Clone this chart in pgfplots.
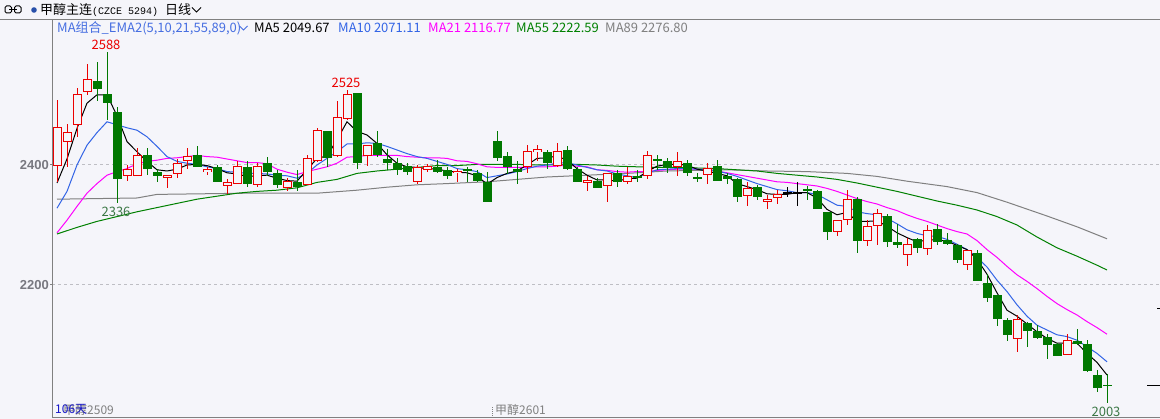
\documentclass[border=0pt]{standalone}
\usepackage{pgfplots}
\pgfplotsset{compat=1.18}
\usepackage{pgfplotstable}
\usepackage{fontspec}
\setmainfont{Noto Sans CJK SC}
\newfontfamily\tickfont{Liberation Sans}
\newfontfamily\monofont{Liberation Mono}
\newcommand\fs[1]{\fontsize{#1}{#1}\selectfont}

\definecolor{bg}{RGB}{245,245,250}
\definecolor{upred}{RGB}{235,0,0}
\definecolor{dngreen}{RGB}{0,120,0}
\definecolor{maA}{RGB}{0,0,0}
\definecolor{maB}{RGB}{50,100,230}
\definecolor{maC}{RGB}{255,0,255}
\definecolor{maD}{RGB}{0,128,0}
\definecolor{maE}{RGB}{128,128,128}
\definecolor{hdrblue}{RGB}{70,110,225}
\definecolor{lblgreen}{RGB}{60,120,70}
\definecolor{axgray}{RGB}{128,128,128}
\definecolor{tickgray}{RGB}{120,120,128}
\definecolor{gridgray}{RGB}{190,190,196}
\definecolor{dotblue}{RGB}{40,80,170}
\definecolor{daysblue}{RGB}{20,20,200}

% up candles (close > open)
\pgfplotstableread{
n o h l c
1 2399 2509 2372 2463
2 2439 2469 2396 2454
3 2468 2528 2447 2517
4 2522 2568 2517 2543
8 2382 2400 2374 2392
9 2383 2428 2383 2416
12 2379 2383 2361 2383
13 2386 2410 2378 2403
14 2408 2429 2394 2414
16 2389 2397 2383 2392
18 2365 2376 2352 2371
19 2369 2406 2369 2397
21 2367 2403 2364 2397
24 2362 2378 2356 2373
26 2368 2417 2366 2411
27 2408 2461 2405 2457
29 2416 2507 2414 2479
30 2478 2525 2475 2518
32 2416 2433 2399 2433
37 2372 2400 2368 2396
38 2393 2402 2389 2397
41 2387 2394 2372 2389
48 2397 2434 2386 2423
49 2422 2434 2406 2425
51 2399 2437 2396 2423
54 2371 2382 2356 2374
56 2366 2386 2338 2386
58 2372 2397 2369 2381
60 2382 2424 2377 2415
63 2397 2422 2381 2406
66 2384 2404 2368 2394
70 2349 2372 2331 2361
72 2339 2350 2326 2343
73 2346 2358 2335 2351
79 2289 2307 2281 2307
80 2309 2358 2300 2342
82 2274 2308 2265 2298
83 2299 2326 2267 2319
86 2251 2279 2232 2268
88 2260 2300 2250 2291
92 2234 2258 2225 2257
97 2111 2150 2089 2142
102 2084 2118 2084 2107
}\up

% down candles (close < open)
\pgfplotstableread{
n o h l c
5 2540 2571 2507 2527
6 2518 2588 2475 2503
7 2489 2497 2336 2377
10 2417 2428 2383 2393
11 2388 2394 2371 2381
15 2416 2432 2396 2397
17 2397 2400 2371 2372
20 2396 2406 2363 2368
22 2404 2413 2382 2388
23 2386 2392 2362 2366
25 2372 2392 2356 2364
28 2457 2457 2396 2411
31 2520 2520 2393 2403
33 2436 2457 2414 2416
34 2410 2426 2392 2404
35 2403 2411 2384 2392
36 2398 2403 2384 2389
39 2397 2408 2386 2388
40 2392 2397 2377 2382
42 2393 2397 2372 2391
43 2386 2392 2371 2374
44 2372 2389 2339 2339
45 2440 2456 2406 2411
46 2415 2421 2385 2397
47 2394 2407 2368 2389
50 2422 2425 2394 2403
52 2425 2431 2392 2394
53 2393 2397 2371 2371
55 2373 2378 2361 2361
57 2386 2392 2363 2371
59 2381 2392 2371 2378
61 2410 2417 2392 2407
62 2407 2411 2386 2396
64 2403 2408 2381 2386
65 2380 2386 2371 2377
67 2398 2408 2374 2374
68 2381 2387 2368 2376
69 2376 2378 2339 2346
71 2363 2367 2341 2347
76 2360 2365 2342 2357
77 2357 2359 2327 2327
78 2322 2322 2275 2289
81 2344 2346 2254 2274
84 2315 2318 2264 2271
85 2272 2302 2262 2266
87 2277 2279 2254 2261
89 2294 2302 2267 2271
90 2275 2287 2267 2268
91 2267 2269 2236 2241
93 2254 2259 2207 2207
94 2203 2219 2172 2179
95 2183 2183 2132 2143
96 2141 2145 2106 2116
98 2137 2139 2096 2124
99 2123 2133 2110 2112
100 2114 2119 2076 2100
101 2102 2103 2081 2082
103 2107 2127 2100 2102
104 2102 2108 2055 2056
105 2050 2059 2021 2029
106 2033 2052 2003 2032
}\dn

% flat candles
\pgfplotstableread{
n o h l c
74 2354 2363 2347 2354
75 2354 2371 2331 2354
}\flat

% MA5 (a), MA10 (b), MA21 (m)
\pgfplotstableread{
n a b m
1 2370 2328 2287
2 2410 2356 2308
3 2461 2400 2331
4 2503 2433 2353
5 2517 2454 2369
6 2517 2472 2383
7 2482 2467 2389
8 2439 2462 2394
9 2422 2458 2402
10 2406 2447 2406
11 2392 2431 2408
12 2390 2414 2411
13 2393 2406 2412
14 2400 2403 2414
15 2401 2401 2416
16 2399 2397 2414
17 2394 2394 2413
18 2387 2389 2410
19 2385 2388 2407
20 2381 2386 2404
21 2382 2386 2404
22 2383 2385 2402
23 2378 2383 2393
24 2374 2382 2388
25 2373 2378 2384
26 2392 2386 2389
27 2411 2400 2393
28 2415 2411 2397
29 2442 2422 2403
30 2472 2435 2413
31 2456 2435 2414
32 2450 2437 2416
33 2436 2436 2416
34 2417 2431 2416
35 2403 2425 2416
36 2397 2419 2414
37 2396 2414 2413
38 2394 2411 2412
39 2393 2406 2412
40 2390 2401 2411
41 2388 2394 2407
42 2387 2392 2406
43 2382 2389 2402
44 2368 2379 2397
45 2379 2382 2396
46 2386 2385 2396
47 2390 2389 2396
48 2400 2394 2396
49 2411 2398 2397
50 2412 2400 2397
51 2415 2403 2398
52 2408 2404 2400
53 2394 2400 2398
54 2383 2396 2397
55 2375 2392 2392
56 2375 2390 2391
57 2373 2385 2389
58 2377 2382 2388
59 2378 2379 2389
60 2389 2386 2389
61 2398 2392 2391
62 2401 2393 2392
63 2401 2394 2393
64 2400 2394 2393
65 2393 2393 2393
66 2390 2392 2392
67 2386 2390 2390
68 2382 2386 2387
69 2369 2381 2384
70 2364 2375 2381
71 2359 2369 2378
72 2352 2364 2375
73 2351 2359 2372
74 2351 2357 2371
75 2354 2354 2369
76 2354 2354 2367
77 2345 2351 2365
78 2326 2342 2361
79 2317 2333 2356
80 2321 2331 2350
81 2306 2322 2344
82 2306 2319 2339
83 2307 2317 2335
84 2298 2311 2329
85 2287 2302 2324
86 2279 2292 2317
87 2272 2286 2311
88 2275 2282 2306
89 2275 2281 2300
90 2273 2276 2294
91 2266 2268 2289
92 2259 2259 2285
93 2243 2246 2274
94 2218 2230 2259
95 2187 2208 2246
96 2158 2189 2231
97 2148 2167 2217
98 2135 2148 2206
99 2122 2133 2194
100 2111 2125 2181
101 2103 2117 2169
102 2103 2114 2159
103 2103 2108 2150
104 2086 2097 2139
105 2071 2086 2129
106 2050 2072 2118
}\ma

% MA55
\pgfplotstableread{
n v
1 2285
3 2296
5 2306
7 2314
9 2322
11 2329
13 2336
15 2343
17 2348
19 2353
21 2356
23 2358
25 2362
27 2371
29 2376
31 2386
33 2390
35 2393
37 2396
39 2399
41 2399
43 2401
45 2401
47 2401
49 2400
51 2400
53 2401
55 2400
57 2398
59 2397
61 2396
63 2396
65 2395
67 2394
69 2392
71 2390
73 2386
75 2383
77 2380
79 2376
81 2370
83 2363
85 2356
87 2348
89 2340
91 2333
93 2325
95 2314
97 2300
99 2280
101 2262
103 2248
105 2233
106 2225
}\mafs

% MA89
\pgfplotstableread{
n v
1 2343
9 2345
11 2351
20 2353
27 2353
31 2358
34 2363
37 2367
40 2369
44 2372
47 2376
50 2380
54 2383
58 2386
62 2390
68 2392
72 2390
76 2389
80 2386
83 2381
86 2373
90 2364
93 2354
96 2338
100 2315
103 2297
106 2277
}\maen

\begin{document}
\begin{tikzpicture}[x=1pt,y=1pt]
\fill[bg] (0,0) rectangle (1160,419);
\useasboundingbox (0,0) rectangle (1160,419);
\begin{axis}[
  at={(52pt,1pt)}, anchor=south west,
  scale only axis, width=1108pt, height=398pt,
  xmin=0.5, xmax=111.3, ymin=1978.33, ymax=2641.67,
  axis x line*=bottom, axis y line*=left,
  axis line style={draw=axgray, line width=1pt, -},
  xtick=\empty,
  ytick={2200,2400},
  yticklabels={2200,2400},
  yticklabel style={font=\tickfont\bfseries\fs{13}, text=tickgray, inner sep=1pt},
  tick align=outside, major tick length=2pt,
  tick style={draw=axgray, line width=1pt},
  ymajorgrids, grid style={gridgray, dash pattern=on 3pt off 3pt, line width=1pt},
  clip=true,
]
% MA lines (long ones behind)
\addplot[maE, line width=1pt, mark=none] table[x=n, y=v]{\maen};
\addplot[maD, line width=1pt, mark=none] table[x=n, y=v]{\mafs};
\addplot[maC, line width=1pt, mark=none] table[x=n, y=m]{\ma};
\addplot[maB, line width=1pt, mark=none] table[x=n, y=b]{\ma};
\addplot[maA, line width=1pt, mark=none] table[x=n, y=a]{\ma};

% up candles: wick, outline, hollow inside
\addplot[draw=none, mark=none, error bars/.cd, y dir=both, y explicit, error mark=none,
  error bar style={line width=1pt, draw=upred}]
  table[x=n, y expr={(\thisrow{h}+\thisrow{l})/2}, y error expr={(\thisrow{h}-\thisrow{l})/2}]{\up};
\addplot[draw=none, mark=none, error bars/.cd, y dir=both, y explicit, error mark=none,
  error bar style={line width=9pt, draw=upred}]
  table[x=n, y expr={(\thisrow{o}+\thisrow{c})/2}, y error expr={(\thisrow{c}-\thisrow{o})/2+0.83}]{\up};
\addplot[draw=none, mark=none, error bars/.cd, y dir=both, y explicit, error mark=none,
  error bar style={line width=7pt, draw=bg}]
  table[x=n, y expr={(\thisrow{o}+\thisrow{c})/2}, y error expr={max((\thisrow{c}-\thisrow{o})/2-0.83,0)}]{\up};

% down candles: wick, filled body
\addplot[draw=none, mark=none, error bars/.cd, y dir=both, y explicit, error mark=none,
  error bar style={line width=1pt, draw=dngreen}]
  table[x=n, y expr={(\thisrow{h}+\thisrow{l})/2}, y error expr={(\thisrow{h}-\thisrow{l})/2}]{\dn};
\addplot[draw=none, mark=none, error bars/.cd, y dir=both, y explicit, error mark=none,
  error bar style={line width=9pt, draw=dngreen}]
  table[x=n, y expr={(\thisrow{o}+\thisrow{c})/2}, y error expr={max((\thisrow{o}-\thisrow{c})/2,0.8)}]{\dn};

% flat candles
\addplot[draw=none, mark=none, error bars/.cd, y dir=both, y explicit, error mark=none,
  error bar style={line width=1pt, draw=black}]
  table[x=n, y expr={(\thisrow{h}+\thisrow{l})/2}, y error expr={(\thisrow{h}-\thisrow{l})/2}]{\flat};
\addplot[draw=none, mark=none, error bars/.cd, y dir=both, y explicit, error mark=none,
  error bar style={line width=9pt, draw=black}]
  table[x=n, y expr={(\thisrow{o}+\thisrow{c})/2}, y error expr={0.8}]{\flat};

% extreme labels
\node[text=upred, font=\fs{13}, anchor=south, inner sep=0pt, yshift=2pt, xshift=-1pt] at (axis cs:6,2588) {2588};
\node[text=lblgreen, font=\fs{13}, anchor=north, inner sep=0pt, yshift=-3pt, xshift=-1pt] at (axis cs:7,2336) {2336};
\node[text=upred, font=\fs{13}, anchor=south, inner sep=0pt, yshift=2.5pt, xshift=-1pt] at (axis cs:30,2525) {2525};
\node[text=lblgreen, font=\fs{13}, anchor=north, inner sep=0pt, yshift=-3.5pt, xshift=-1pt] at (axis cs:106,2003) {2003};

% right-edge price markers
\draw[black, line width=1pt] (axis cs:110,2032) -- (axis cs:111.3,2032);
\draw[black, line width=1pt] (axis cs:111,2160) -- (axis cs:111.3,2160);
\end{axis}

% header bar
\draw[axgray, line width=1pt] (0,399) -- (1160,399);
\draw[line width=1pt, rounded corners=1.5pt] (5,406) rectangle (11.5,413);
\draw[line width=1pt, rounded corners=1.5pt] (14.5,406) rectangle (21,413);
\draw[line width=1pt] (9,409.5) -- (17,409.5);
\fill[dotblue] (34,409) circle (2.8);
\node[anchor=west, inner sep=0pt] at (40,409) {\fs{13}甲醇主连{\monofont\fs{10}(CZCE 5294)}};
\node[anchor=west, inner sep=0pt] at (165,409) {\fs{13}日线};
\draw[line width=1pt] (192,411.5) -- (196.5,407) -- (201,411.5);

% legend row
\node[anchor=west, inner sep=0pt, text=hdrblue] at (57,391) {\fs{13}MA组合\_EMA2(5,10,21,55,89,0)};
\draw[hdrblue, line width=1pt] (239.5,393) -- (243.5,389) -- (247.5,393);
\node[anchor=west, inner sep=0pt, text=maA] at (254,391) {\fs{13}MA5 2049.67};
\node[anchor=west, inner sep=0pt, text=maB] at (338,391) {\fs{13}MA10 2071.11};
\node[anchor=west, inner sep=0pt, text=maC] at (428,391) {\fs{13}MA21 2116.77};
\node[anchor=west, inner sep=0pt, text=maD] at (516,391) {\fs{13}MA55 2222.59};
\node[anchor=west, inner sep=0pt, text=maE] at (605,391) {\fs{13}MA89 2276.80};

% bottom labels
\node[anchor=west, inner sep=0pt, text=axgray] at (63,9) {\fs{12}甲醇2509};
\node[anchor=west, inner sep=0pt, text=daysblue] at (55,10) {\fs{12}106天};
\node[anchor=west, inner sep=0pt, text=axgray] at (495,9) {\fs{12}甲醇2601};
\draw[axgray, line width=0.8pt, dash pattern=on 1pt off 1pt] (492,1) -- (492,12);
\end{tikzpicture}
\end{document}
